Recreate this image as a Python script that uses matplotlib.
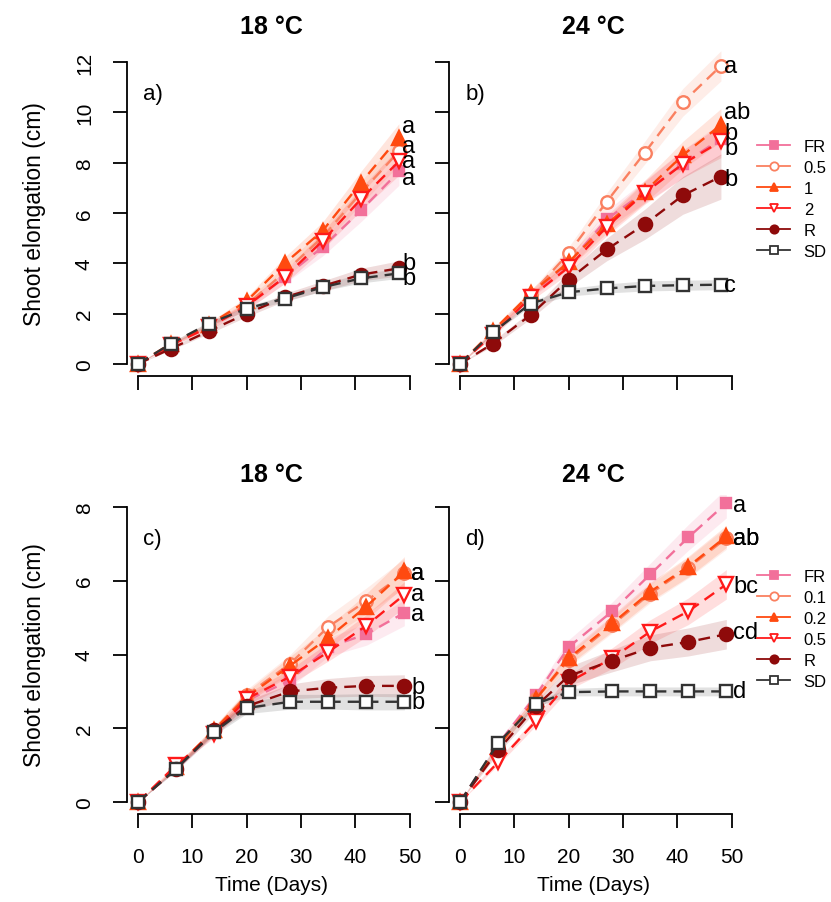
import matplotlib
matplotlib.use('Agg')
import matplotlib.pyplot as plt
from matplotlib.lines import Line2D

plt.rcParams['font.family'] = ['Liberation Sans', 'DejaVu Sans']

# ---------------- data ----------------
days_top = [0, 6, 13, 20, 27, 34, 41, 48]
days_bottom = [0, 7, 14, 20, 28, 35, 42, 49]

labels_top = ['FR', '0.5', '1', '2', 'R', 'SD']
labels_bottom = ['FR', '0.1', '0.2', '0.5', 'R', 'SD']

titles = ['18 °C', '24 °C', '18 °C', '24 °C']
panel_tags = ['a)', 'b)', 'c)', 'd)']

# panel a (18 °C, top)
a_FR = [0, 0.75, 1.50, 2.30, 3.45, 4.65, 6.10, 7.65]
a_05 = [0, 0.75, 1.50, 2.35, 3.65, 5.05, 6.80, 8.45]
a_1 = [0, 0.80, 1.55, 2.50, 4.00, 5.30, 7.20, 9.00]
a_2 = [0, 0.75, 1.45, 2.30, 3.45, 4.90, 6.55, 8.05]
a_R = [0, 0.60, 1.30, 2.00, 2.65, 3.10, 3.55, 3.80]
a_SD = [0, 0.80, 1.60, 2.20, 2.60, 3.05, 3.40, 3.60]
a_FR_se = [0, 0.05, 0.10, 0.15, 0.25, 0.35, 0.45, 0.55]
a_05_se = [0, 0.05, 0.10, 0.15, 0.25, 0.35, 0.45, 0.55]
a_1_se = [0, 0.05, 0.10, 0.15, 0.25, 0.35, 0.45, 0.55]
a_2_se = [0, 0.05, 0.10, 0.15, 0.25, 0.35, 0.45, 0.55]
a_R_se = [0, 0.05, 0.10, 0.12, 0.15, 0.20, 0.25, 0.30]
a_SD_se = [0, 0.05, 0.08, 0.10, 0.12, 0.15, 0.18, 0.20]
a_letters = ['a', 'a', 'a', 'a', 'b', 'b']
a_letter_y = [7.40, 8.65, 9.45, 8.05, 4.00, 3.40]

# panel b (24 °C, top)
b_FR = [0, 1.25, 2.75, 4.00, 5.75, 6.85, 7.95, 8.95]
b_05 = [0, 1.20, 2.75, 4.40, 6.45, 8.40, 10.40, 11.85]
b_1 = [0, 1.30, 2.80, 4.05, 5.55, 6.85, 8.30, 9.50]
b_2 = [0, 1.15, 2.65, 3.85, 5.45, 6.80, 7.95, 8.85]
b_R = [0, 0.80, 1.95, 3.35, 4.55, 5.55, 6.70, 7.45]
b_SD = [0, 1.25, 2.40, 2.85, 3.00, 3.10, 3.13, 3.15]
b_FR_se = [0, 0.10, 0.15, 0.25, 0.35, 0.45, 0.55, 0.65]
b_05_se = [0, 0.10, 0.15, 0.25, 0.35, 0.45, 0.55, 0.60]
b_1_se = [0, 0.10, 0.15, 0.25, 0.35, 0.45, 0.55, 0.65]
b_2_se = [0, 0.10, 0.15, 0.25, 0.35, 0.45, 0.55, 0.65]
b_R_se = [0, 0.10, 0.15, 0.30, 0.45, 0.60, 0.75, 0.90]
b_SD_se = [0, 0.05, 0.10, 0.15, 0.18, 0.20, 0.20, 0.20]
b_letters = ['b', 'a', 'ab', 'b', 'b', 'c']
b_letter_y = [9.20, 11.85, 10.00, 8.60, 7.35, 3.15]

# panel c (18 °C, bottom)
c_FR = [0, 0.90, 1.90, 2.75, 3.30, 4.20, 4.55, 5.13]
c_01 = [0, 0.95, 1.95, 2.90, 3.75, 4.75, 5.45, 6.20]
c_02 = [0, 0.95, 1.95, 2.85, 3.70, 4.45, 5.30, 6.25]
c_05 = [0, 1.00, 1.85, 2.80, 3.40, 4.07, 4.78, 5.62]
c_R = [0, 0.90, 1.95, 2.60, 3.00, 3.10, 3.15, 3.15]
c_SD = [0, 0.90, 1.90, 2.55, 2.72, 2.72, 2.72, 2.72]
c_FR_se = [0, 0.05, 0.10, 0.15, 0.20, 0.25, 0.30, 0.35]
c_01_se = [0, 0.05, 0.10, 0.15, 0.25, 0.30, 0.35, 0.40]
c_02_se = [0, 0.05, 0.10, 0.15, 0.25, 0.30, 0.35, 0.40]
c_05_se = [0, 0.05, 0.10, 0.15, 0.20, 0.25, 0.30, 0.35]
c_R_se = [0, 0.05, 0.08, 0.15, 0.20, 0.25, 0.28, 0.30]
c_SD_se = [0, 0.05, 0.08, 0.15, 0.20, 0.20, 0.22, 0.22]
c_letters = ['a', 'a', 'a', 'a', 'b', 'b']
c_letter_y = [5.10, 6.20, 6.20, 5.63, 3.12, 2.72]

# panel d (24 °C, bottom)
d_FR = [0, 1.57, 2.90, 4.20, 5.17, 6.17, 7.17, 8.10]
d_01 = [0, 1.50, 2.80, 3.85, 4.80, 5.65, 6.35, 7.15]
d_02 = [0, 1.50, 2.80, 3.90, 4.84, 5.70, 6.38, 7.20]
d_05 = [0, 1.08, 2.20, 3.25, 3.90, 4.62, 5.17, 5.90]
d_R = [0, 1.40, 2.60, 3.42, 3.83, 4.18, 4.34, 4.55]
d_SD = [0, 1.60, 2.67, 2.98, 3.00, 3.00, 3.00, 3.00]
d_FR_se = [0, 0.08, 0.12, 0.20, 0.25, 0.30, 0.35, 0.40]
d_01_se = [0, 0.08, 0.12, 0.18, 0.22, 0.25, 0.28, 0.30]
d_02_se = [0, 0.08, 0.12, 0.18, 0.22, 0.25, 0.28, 0.30]
d_05_se = [0, 0.08, 0.12, 0.20, 0.28, 0.32, 0.36, 0.40]
d_R_se = [0, 0.08, 0.12, 0.25, 0.30, 0.35, 0.38, 0.40]
d_SD_se = [0, 0.05, 0.08, 0.10, 0.12, 0.12, 0.12, 0.12]
d_letters = ['a', 'ab', 'ab', 'bc', 'cd', 'd']
d_letter_y = [8.05, 7.15, 7.15, 5.85, 4.60, 3.00]

# ---------------- styles ----------------
colors = ['#F2709A', '#FA8060', '#FF4A10', '#FF1A1A', '#8E0A0A', '#333333']
band_colors = ['#F2709A', '#FA8060', '#FF4A10', '#FF1A1A', '#8E0A0A', '#777777']
markers = ['s', 'o', '^', 'v', 'o', 's']
filled = [True, False, True, False, True, False]
msizes = [7.5, 9, 10, 10, 9.5, 8.5]

W, H = 831, 903
fig = plt.figure(figsize=(W / 100, H / 100), dpi=100)


def rect(l, t, r, b):
    return [l / W, 1 - b / H, (r - l) / W, (b - t) / H]


ax_a = fig.add_axes(rect(127.3, 51, 415, 377))
ax_b = fig.add_axes(rect(449.3, 51, 737, 377))
ax_c = fig.add_axes(rect(127.3, 496, 415, 815))
ax_d = fig.add_axes(rect(449.3, 496, 737, 815))

panels = [
    (ax_a, days_top, [a_FR, a_05, a_1, a_2, a_R, a_SD],
     [a_FR_se, a_05_se, a_1_se, a_2_se, a_R_se, a_SD_se], a_letters, a_letter_y, 12, 2.5),
    (ax_b, days_top, [b_FR, b_05, b_1, b_2, b_R, b_SD],
     [b_FR_se, b_05_se, b_1_se, b_2_se, b_R_se, b_SD_se], b_letters, b_letter_y, 12, 2.5),
    (ax_c, days_bottom, [c_FR, c_01, c_02, c_05, c_R, c_SD],
     [c_FR_se, c_01_se, c_02_se, c_05_se, c_R_se, c_SD_se], c_letters, c_letter_y, 8, 5),
    (ax_d, days_bottom, [d_FR, d_01, d_02, d_05, d_R, d_SD],
     [d_FR_se, d_01_se, d_02_se, d_05_se, d_R_se, d_SD_se], d_letters, d_letter_y, 8, 5),
]

for idx, (ax, days, series, ses, letters, letter_y, ymax, dx) in enumerate(panels):
    for i, (vals, se) in enumerate(zip(series, ses)):
        lo = [v - s for v, s in zip(vals, se)]
        hi = [v + s for v, s in zip(vals, se)]
        ax.fill_between(days, lo, hi, color=band_colors[i],
                        alpha=0.22 if i == 5 else 0.14, lw=0, zorder=1)
    for i, vals in enumerate(series):
        ax.plot(days, vals, color=colors[i], ls=(0, (5, 3)), lw=1.7,
                marker=markers[i], ms=msizes[i], mec=colors[i],
                mfc=colors[i] if filled[i] else 'white', mew=1.7, zorder=3 + i)
    for i, (lab, ly) in enumerate(zip(letters, letter_y)):
        ax.annotate(lab, xy=(days[-1], ly), xytext=(dx, 0), textcoords='offset points',
                    ha='left', va='center', fontsize=17, color='black', zorder=20,
                    annotation_clip=False)

    ax.set_xlim(-1.96, 50.96)
    ax.set_ylim(-0.04 * ymax, ymax * 1.04)
    ax.set_xticks([0, 10, 20, 30, 40, 50])
    ax.set_yticks(list(range(0, ymax + 1, 2)))
    for s in ['top', 'right']:
        ax.spines[s].set_visible(False)
    ax.spines['left'].set_bounds(0, ymax)
    ax.spines['bottom'].set_bounds(0, 50)
    for s in ['left', 'bottom']:
        ax.spines[s].set_linewidth(1.3)
    ax.tick_params(axis='both', length=10, width=1.3, labelsize=15)
    ax.tick_params(axis='x', pad=14)
    ax.tick_params(axis='y', pad=14)
    if idx < 2:
        ax.tick_params(axis='x', labelbottom=False)
    if idx in (1, 3):
        ax.tick_params(axis='y', labelleft=False)
    else:
        for t in ax.get_yticklabels():
            t.set_rotation(90)
            t.set_va('center')
    ax.text(1.0, ymax * (10.75 / 12 if ymax == 12 else 7.15 / 8), panel_tags[idx],
            fontsize=16, ha='left', va='center')
    ax.patch.set_alpha(0)

# titles
for ax, t, y in [(ax_a, titles[0], 27), (ax_b, titles[1], 27),
                 (ax_c, titles[2], 475), (ax_d, titles[3], 475)]:
    pos = ax.get_position()
    fig.text(pos.x0 + pos.width / 2, 1 - y / H, t, ha='center', va='center',
             fontsize=18, fontweight='bold')

# axis titles
fig.text(35 / W, 1 - 214 / H, 'Shoot elongation (cm)', rotation=90,
         ha='center', va='center', fontsize=16.5)
fig.text(35 / W, 1 - 655 / H, 'Shoot elongation (cm)', rotation=90,
         ha='center', va='center', fontsize=16.5)
for ax in (ax_c, ax_d):
    pos = ax.get_position()
    fig.text(pos.x0 + pos.width / 2, 1 - 886 / H, 'Time (Days)',
             ha='center', va='center', fontsize=15)

# legends
for labels, top in [(labels_top, 140), (labels_bottom, 570)]:
    handles = [Line2D([], [], color=colors[i], lw=1.3, marker=markers[i], ms=6,
                      mec=colors[i], mfc=colors[i] if filled[i] else 'white', mew=1.3)
               for i in range(6)]
    fig.legend(handles, labels, loc='upper left',
               bbox_to_anchor=(757 / W, 1 - top / H), frameon=False,
               fontsize=12, handlelength=2.0, handletextpad=0.8,
               labelspacing=0.36, borderpad=0, borderaxespad=0)

fig.savefig('out.png', dpi=100)
